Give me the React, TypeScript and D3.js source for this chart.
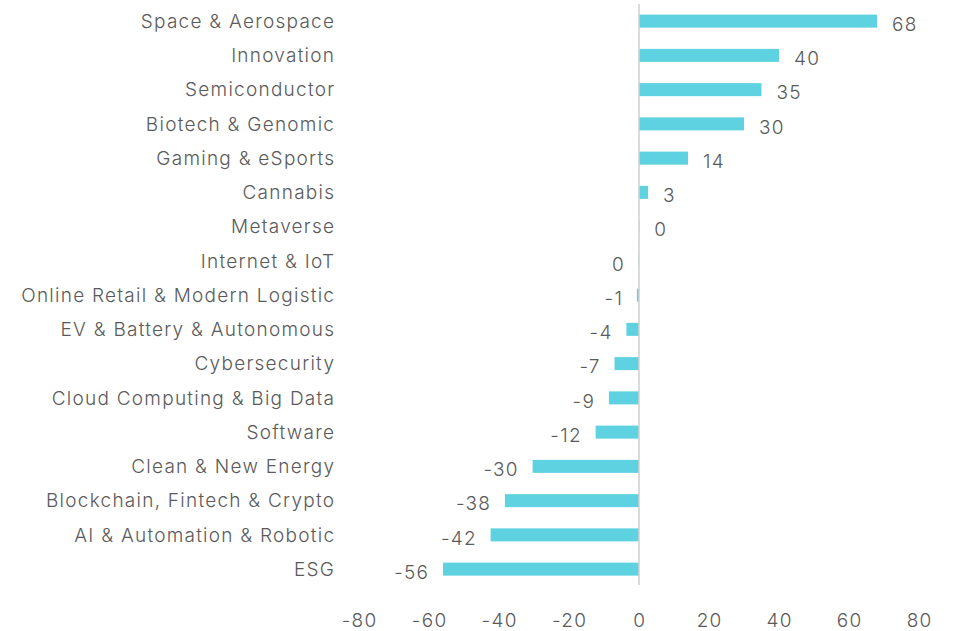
import { useEffect, useRef } from 'react';
import * as d3 from 'd3';

const categories = [
  'Space & Aerospace',
  'Innovation',
  'Semiconductor',
  'Biotech & Genomic',
  'Gaming & eSports',
  'Cannabis',
  'Metaverse',
  'Internet & IoT',
  'Online Retail & Modern Logistic',
  'EV & Battery & Autonomous',
  'Cybersecurity',
  'Cloud Computing & Big Data',
  'Software',
  'Clean & New Energy',
  'Blockchain, Fintech & Crypto',
  'AI & Automation & Robotic',
  'ESG',
];

const values = [68, 40, 35, 30, 14, 2.6, 0.1, -0.1, -0.6, -3.6, -7, -8.6, -12.4, -30.4, -38.3, -42.4, -56];

const xTicks = [-80, -60, -40, -20, 0, 20, 40, 60, 80];

const W = 958;
const H = 631;
const FONT = 'Inter, Roboto, sans-serif';
const TEXT = '#5a5a5a';
const BAR = '#5fd2e1';
const SPACING = 1.25;

export default function App() {
  const ref = useRef<SVGSVGElement>(null);

  useEffect(() => {
    if (!ref.current) return;
    const svg = d3.select(ref.current);
    svg.selectAll('*').remove();

    const x = d3.scaleLinear().domain([-80, 80]).range([359, 919]);
    const y = d3.scaleBand<string>()
      .domain(categories)
      .range([4, 586.25])
      .paddingInner(0.62)
      .paddingOuter(0.31);

    const data = categories.map((c, i) => ({ c, v: values[i] }));

    // bars
    svg.append('g')
      .selectAll('rect')
      .data(data)
      .enter()
      .append('rect')
      .attr('x', d => x(Math.min(0, d.v)))
      .attr('y', d => y(d.c)!)
      .attr('width', d => Math.abs(x(d.v) - x(0)))
      .attr('height', y.bandwidth())
      .attr('fill', BAR);

    // zero line
    svg.append('line')
      .attr('x1', x(0))
      .attr('x2', x(0))
      .attr('y1', 4)
      .attr('y2', 585)
      .attr('stroke', '#cfcfcf')
      .attr('stroke-width', 1.5);

    const styleText = (sel: any) =>
      sel
        .attr('fill', TEXT)
        .attr('font-family', FONT)
        .attr('font-weight', 300)
        .attr('font-size', 19)
        .attr('letter-spacing', `${SPACING}px`);

    // category labels
    svg.append('g')
      .selectAll('text')
      .data(data)
      .enter()
      .append('text')
      .attr('x', 334 + SPACING)
      .attr('y', d => y(d.c)! + y.bandwidth() / 2)
      .attr('dy', '0.35em')
      .attr('text-anchor', 'end')
      .call(styleText)
      .text(d => d.c);

    // value labels
    svg.append('g')
      .selectAll('text')
      .data(data)
      .enter()
      .append('text')
      .attr('x', d => (d.v >= 0 ? x(d.v) + 15 : x(d.v) - 15 + SPACING))
      .attr('y', d => y(d.c)! + y.bandwidth() / 2 + 3)
      .attr('dy', '0.35em')
      .attr('text-anchor', d => (d.v >= 0 ? 'start' : 'end'))
      .call(styleText)
      .text(d => String(Math.round(d.v) + 0));

    // x axis tick labels
    svg.append('g')
      .selectAll('text')
      .data(xTicks)
      .enter()
      .append('text')
      .attr('x', d => x(d) + SPACING / 2)
      .attr('y', 620)
      .attr('dy', '0.35em')
      .attr('text-anchor', 'middle')
      .call(styleText)
      .text(d => String(d));
  }, []);

  return (
    <svg
      ref={ref}
      width={W}
      height={H}
      style={{ position: 'absolute', left: 0, top: 0, background: '#fff' }}
    />
  );
}
